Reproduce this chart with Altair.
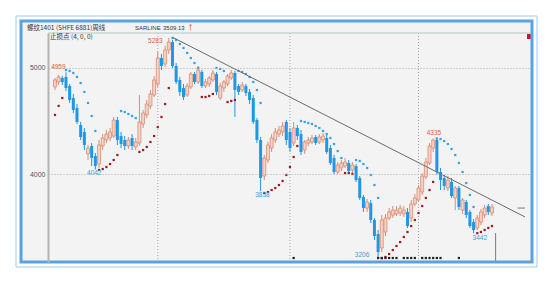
import altair as alt
import pandas as pd

# ---------------- data (weekly candles) ----------------
opens = [4821,4868,4906,4915,4830,4717,4623,4462,4396,4189,
         4264,4170,4094,4264,4321,4340,4358,4509,4358,4321,
         4264,4340,4255,4292,4472,4557,4642,4745,4849,5094,
         5038,5170,5245,5019,4887,4811,4745,4821,4943,4868,
         4962,4830,4849,4887,4943,4717,4811,4849,4906,4953,
         4830,4792,4830,4774,4717,4509,4321,3981,4132,4245,
         4321,4377,4396,4491,4396,4292,4434,4377,4226,4292,
         4302,4349,4302,4321,4340,4245,4151,4019,4057,4075,
         4104,4038,4075,3962,3783,3679,3726,3566,3434,3302,
         3453,3585,3613,3623,3632,3623,3642,3585,3717,3755,
         3830,3972,4104,4245,4321,4019,3962,3868,3925,3774,
         3868,3660,3736,3642,3547,3491,3547,3613,3698,3632]
closes = [4887,4915,4868,4811,4698,4604,4491,4349,4274,4245,
          4151,4075,4274,4340,4377,4396,4509,4321,4283,4264,
          4321,4264,4302,4491,4575,4660,4755,4887,5094,5019,
          5170,5245,5019,4868,4774,4726,4830,4943,4868,4981,
          4830,4868,4906,4953,4774,4830,4868,4925,4953,4792,
          4774,4840,4764,4698,4491,4321,3962,4151,4274,4340,
          4396,4415,4453,4321,4245,4434,4358,4208,4302,4321,
          4340,4292,4349,4358,4208,4104,4019,4085,4104,4113,
          4028,4085,3943,3774,3679,3736,3566,3415,3264,3566,
          3585,3642,3660,3660,3679,3660,3509,3717,3774,3868,
          3981,4113,4264,4321,4019,3943,3887,3943,3792,3868,
          3689,3755,3613,3509,3472,3585,3642,3679,3642,3689]
highs = [4906,4934,4925,4959,4849,4755,4660,4491,4434,4274,
         4292,4198,4321,4377,4415,4434,4538,4538,4396,4358,
         4349,4377,4340,4745,4604,4698,4792,4925,5151,5132,
         5208,5283,5264,5047,4915,4849,4858,4962,4962,5019,
         4981,4896,4925,4981,4962,4858,4887,4943,4981,4972,
         4849,4868,4849,4802,4745,4528,4349,4179,4302,4377,
         4434,4453,4491,4509,4434,4491,4462,4415,4321,4349,
         4368,4368,4377,4387,4368,4274,4179,4113,4132,4151,
         4132,4113,4094,3981,3802,3764,3755,3585,3472,3613,
         3623,3679,3698,3698,3708,3698,3679,3755,3811,3896,
         4009,4151,4292,4335,4330,4057,3991,3981,3962,3887,
         3887,3774,3755,3660,3575,3613,3670,3708,3717,3717]
lows = [4792,4840,4840,4783,4670,4575,4472,4321,4226,4132,
        4075,4042,4057,4226,4292,4311,4340,4274,4245,4226,
        4236,4226,4226,4264,4434,4528,4613,4726,4821,4981,
        5009,5132,5000,4849,4736,4698,4726,4802,4849,4849,
        4811,4811,4821,4868,4745,4698,4774,4830,4887,4538,
        4745,4774,4736,4660,4472,4292,3838,3943,4104,4208,
        4292,4349,4358,4274,4208,4264,4321,4179,4189,4264,
        4283,4274,4283,4292,4189,4085,4000,4000,4028,4057,
        4009,4009,3925,3755,3642,3642,3538,3377,3206,3264,
        3415,3566,3585,3604,3604,3594,3491,3547,3698,3736,
        3802,3953,4085,4208,3991,3849,3849,3840,3774,3660,
        3660,3623,3585,3491,3442,3472,3519,3585,3613,3604]
# parabolic SAR ("止损点") value at each week
sar = [4557,4642,4717,4981,4972,4953,4915,4858,4774,4670,
       4547,4406,4038,4047,4066,4094,4132,4179,4594,4585,
       4566,4547,4528,4208,4226,4255,4302,4358,4443,4538,
       4660,4811,5283,5264,5226,5189,5142,5094,5047,5000,
       4726,4726,4736,4755,5000,4991,4972,4679,4689,4698,
       4972,4962,4943,4915,4868,4792,4670,3821,3830,3849,
       3868,3896,3934,3991,4066,4160,4264,4500,4491,4481,
       4472,4453,4434,4406,4377,4340,4283,4217,4151,4009,
       4009,4000,4132,4123,4094,4057,3991,3896,3774,3206,
       3217,3245,3283,3321,3358,3406,3453,3509,3566,3632,
       3698,3774,3849,3925,4335,4330,4311,4283,4236,4179,
       4104,4019,3915,3802,3689,3442,3453,3472,3491,3509.13]

# weeks flagged with a small black marker along the bottom
marker_weeks = [65, 88, 89, 90, 91, 92, 93, 95, 96, 97, 98, 100, 101, 102, 103, 104, 105, 110]
# year separators (vertical dotted lines)
year_weeks = [28, 64, 99]
# y-axis ticks
y_ticks = [4000, 5000]
# trend line (SARLINE) end points
trend_weeks = [32, 128]
trend_values = [5290, 3595]
# high / low annotations
label_texts = ["4959", "5283", "4042", "3838", "3206", "4335", "3442"]
label_weeks = [2.9, 29.3, 10.7, 56.5, 85.6, 103.2, 115.7]
label_values = [5010, 5255, 4009, 3802, 3236, 4387, 3396]
label_kind = ["hi", "hi", "lo", "lo", "lo", "hi", "lo"]
label_align = ["right", "right", "center", "center", "right", "center", "center"]

BLUE = "#1f97e4"
RED_EDGE = "#d98c72"
RED_FILL = "#f6d3c6"
SAR_BLUE = "#35a2e6"
SAR_RED = "#9c1c1c"
HI_TXT = "#e0603c"
LO_TXT = "#3a9fd6"
FONT = "Liberation Sans"
CJK = "Noto Sans CJK SC"

# ---------------- tables ----------------
n = len(opens)
candles = pd.DataFrame({
    "i": list(range(n)), "open": opens, "close": closes,
    "high": highs, "low": lows, "sar": sar,
})
candles["dir"] = ["up" if c >= o else "down" for o, c in zip(opens, closes)]
candles["wick_col"] = [RED_EDGE if d == "up" else BLUE for d in candles["dir"]]
candles["sar_col"] = [SAR_RED if s < c else SAR_BLUE for s, c in zip(sar, closes)]

labels = pd.DataFrame({"text": label_texts, "i": label_weeks, "v": label_values,
                       "align": label_align})
labels["col"] = [HI_TXT if k == "hi" else LO_TXT for k in label_kind]
trend = pd.DataFrame({"i": trend_weeks, "v": trend_values})
markers = pd.DataFrame({"i": marker_weeks})
years = pd.DataFrame({"i": year_weeks})
one = pd.DataFrame({"k": [0]})

W, H = 482, 229
xs = alt.Scale(domain=[-0.533, 128.0], nice=False, zero=False)
ys = alt.Scale(domain=[3170, 5330], nice=False, zero=False)

yaxis = alt.Axis(values=y_ticks, format="d", orient="left", domain=True, domainColor="#b4b4b4",
                 domainWidth=2, ticks=False, labelFontSize=7, labelColor="#555555",
                 labelFont=FONT, labelPadding=3, grid=True, gridColor="#a8a8a8",
                 gridDash=[1, 2], gridWidth=1, title=None, zindex=1)


def X(f):
    return alt.X(f, type="quantitative", scale=xs, axis=None)


def Y(f):
    return alt.Y(f, type="quantitative", scale=ys, axis=yaxis)


# ---------------- layers ----------------
bg = alt.Chart(one).mark_rect(fill="#f3f3f3").encode(
    x=alt.value(-27), x2=alt.value(484), y=alt.value(-12), y2=alt.value(229))

year_rules = alt.Chart(years).mark_rule(color="#a8a8a8", strokeDash=[1, 2], strokeWidth=1).encode(
    x=X("i"))

top_line = alt.Chart(one).mark_rule(color="#b3c8c0", strokeWidth=1).encode(
    x=alt.value(0), x2=alt.value(W), y=alt.value(0))

wicks = alt.Chart(candles).mark_rule(strokeWidth=1).encode(
    x=X("i"), y=Y("low"), y2="high:Q", color=alt.Color("wick_col:N", scale=None))

down_bodies = alt.Chart(candles).transform_filter(alt.datum.dir == "down").mark_bar(
    size=3, color=BLUE).encode(x=X("i"), y=Y("open"), y2="close:Q")

up_bodies = alt.Chart(candles).transform_filter(alt.datum.dir == "up").mark_bar(
    size=3, fill=RED_FILL, stroke=RED_EDGE, strokeWidth=0.8).encode(
    x=X("i"), y=Y("open"), y2="close:Q")

sar_dots = alt.Chart(candles).mark_square(size=5, opacity=1).encode(
    x=X("i"), y=Y("sar"), color=alt.Color("sar_col:N", scale=None))

trend_line = alt.Chart(trend).mark_line(color="#6a6a6a", strokeWidth=1).encode(
    x=X("i"), y=Y("v"))

last_rule = alt.Chart(pd.DataFrame({"i": [120], "v1": [3443], "v2": [3170]})).mark_rule(
    color="#7a7a7a", strokeWidth=1).encode(x=X("i"), y=Y("v1"), y2="v2:Q")

side_tick = alt.Chart(pd.DataFrame({"i1": [126], "i2": [128], "v": [3679]})).mark_rule(
    color="#7a7a7a", strokeWidth=1).encode(x=X("i1"), x2="i2:Q", y=Y("v"))

bottom_marks = alt.Chart(markers).mark_square(size=5, color="#222222", opacity=1).encode(
    x=X("i"), y=alt.value(225))


def label_layer(align):
    return alt.Chart(labels).transform_filter(alt.datum.align == align).mark_text(
        fontSize=6.5, font=FONT, align=align, baseline="middle").encode(
        x=X("i"), y=Y("v"), text="text:N", color=alt.Color("col:N", scale=None))


def hdr(txt, x, y, color="#333333", font=CJK, size=6.5):
    return alt.Chart(one).mark_text(
        text=txt, fontSize=size, font=font, align="left", baseline="middle", color=color).encode(
        x=alt.value(x), y=alt.value(y))


title1 = hdr("螺纹1401 (SHFE 6881)周线", -21, -5)
title2 = hdr("SARLINE", 87, -5, font=FONT, size=6)
title3 = hdr("3509.13", 115, -5, font=FONT, size=6)
title4 = hdr("↑", 139, -5, color="#d04020", font=CJK, size=7)
title5 = hdr("止损点 (4, 0, 0)", 2, 4)

red_box = alt.Chart(one).mark_rect(color="#cc1526").encode(
    x=alt.value(479), x2=alt.value(483), y=alt.value(1), y2=alt.value(6))

thin_frame = alt.Chart(one).mark_rect(fill=None, stroke="#9fcbee", strokeWidth=1).encode(
    x=alt.value(-32), x2=alt.value(489), y=alt.value(-17), y2=alt.value(234))
thick_frame = alt.Chart(one).mark_rect(fill=None, stroke="#5aa3e0", strokeWidth=3).encode(
    x=alt.value(-27), x2=alt.value(484), y=alt.value(-12), y2=alt.value(229))

chart = alt.layer(
    bg, year_rules, wicks, up_bodies, down_bodies, sar_dots, trend_line,
    last_rule, side_tick, bottom_marks,
    label_layer("right"), label_layer("center"),
    top_line, title1, title2, title3, title4, title5, red_box, thin_frame, thick_frame,
).properties(
    width=W, height=H,
    padding={"left": 48, "top": 33, "right": 23, "bottom": 23},
    autosize=alt.AutoSizeParams(type="none"),
    background="white",
).configure_view(stroke=None)

chart.save("out.html", embed_options={"renderer": "svg", "actions": False})
